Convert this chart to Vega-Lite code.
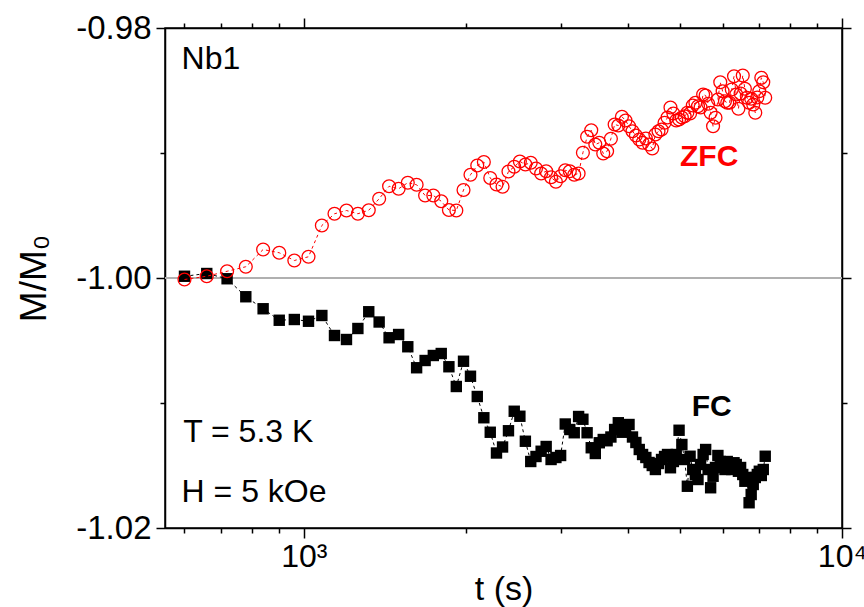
{
  "$schema": "https://vega.github.io/schema/vega-lite/v6.json",
  "width": 677,
  "height": 500,
  "autosize": {"type": "none"},
  "padding": {"left": 165, "top": 28, "right": 22, "bottom": 79},
  "background": "white",
  "config": {
    "view": {"stroke": "black", "strokeWidth": 1.5},
    "font": "Liberation Sans",
    "axis": {"domainColor": "black", "tickColor": "black", "labelColor": "black", "titleColor": "black", "grid": false, "labelFont": "Liberation Sans", "titleFont": "Liberation Sans", "titleFontWeight": "normal", "domainWidth": 1.5, "tickWidth": 1.5, "labelOverlap": false, "labelFlush": false, "labelBound": false}
  },
  "datasets": {
    "zfc": [
      {"t":600,"m":-1.00012},{"t":660,"m":-0.99986},{"t":720,"m":-0.99946},{"t":780,"m":-0.9991},{"t":840,"m":-0.99772},{"t":900,"m":-0.99798},{"t":960,"m":-0.9986},{"t":1020,"m":-0.9983},{"t":1080,"m":-0.9958},{"t":1140,"m":-0.99486},
      {"t":1200,"m":-0.9946},{"t":1260,"m":-0.99486},{"t":1320,"m":-0.99458},{"t":1380,"m":-0.99366},{"t":1440,"m":-0.99266},{"t":1500,"m":-0.99286},{"t":1560,"m":-0.99238},{"t":1620,"m":-0.99254},{"t":1680,"m":-0.9934},{"t":1740,"m":-0.9934},
      {"t":1800,"m":-0.99386},{"t":1860,"m":-0.99456},{"t":1920,"m":-0.9946},{"t":1980,"m":-0.99296},{"t":2040,"m":-0.99174},{"t":2100,"m":-0.991},{"t":2160,"m":-0.99072},{"t":2220,"m":-0.992},{"t":2280,"m":-0.99252},{"t":2340,"m":-0.9927},
      {"t":2400,"m":-0.99148},{"t":2460,"m":-0.9911},{"t":2520,"m":-0.99068},{"t":2580,"m":-0.99092},{"t":2640,"m":-0.99078},{"t":2700,"m":-0.99124},{"t":2760,"m":-0.99164},{"t":2820,"m":-0.99146},{"t":2880,"m":-0.99194},{"t":2940,"m":-0.9923},
      {"t":3000,"m":-0.99186},{"t":3060,"m":-0.99138},{"t":3120,"m":-0.99146},{"t":3180,"m":-0.99174},{"t":3240,"m":-0.99164},{"t":3300,"m":-0.98998},{"t":3360,"m":-0.9887},{"t":3420,"m":-0.98818},{"t":3480,"m":-0.98932},{"t":3540,"m":-0.98918},
      {"t":3600,"m":-0.99004},{"t":3660,"m":-0.98986},{"t":3720,"m":-0.98886},{"t":3780,"m":-0.98772},{"t":3840,"m":-0.9878},{"t":3900,"m":-0.9871},{"t":3960,"m":-0.9874},{"t":4020,"m":-0.98786},{"t":4080,"m":-0.98826},{"t":4140,"m":-0.9886},
      {"t":4200,"m":-0.98892},{"t":4260,"m":-0.98918},{"t":4320,"m":-0.98884},{"t":4380,"m":-0.98932},{"t":4440,"m":-0.98964},{"t":4500,"m":-0.98852},{"t":4560,"m":-0.98826},{"t":4620,"m":-0.98812},{"t":4680,"m":-0.98758},{"t":4740,"m":-0.98716},
      {"t":4800,"m":-0.98636},{"t":4860,"m":-0.98684},{"t":4920,"m":-0.9874},{"t":4980,"m":-0.98732},{"t":5040,"m":-0.98716},{"t":5100,"m":-0.98706},{"t":5160,"m":-0.98678},{"t":5220,"m":-0.98684},{"t":5280,"m":-0.9862},{"t":5340,"m":-0.98598},
      {"t":5400,"m":-0.98626},{"t":5460,"m":-0.98636},{"t":5520,"m":-0.98532},{"t":5580,"m":-0.9854},{"t":5640,"m":-0.98606},{"t":5700,"m":-0.98678},{"t":5760,"m":-0.98786},{"t":5820,"m":-0.98718},{"t":5880,"m":-0.98572},{"t":5940,"m":-0.98434},
      {"t":6000,"m":-0.98506},{"t":6060,"m":-0.98586},{"t":6120,"m":-0.98598},{"t":6180,"m":-0.98598},{"t":6240,"m":-0.98492},{"t":6300,"m":-0.98386},{"t":6360,"m":-0.98532},{"t":6420,"m":-0.98646},{"t":6480,"m":-0.98524},{"t":6540,"m":-0.9838},
      {"t":6600,"m":-0.98486},{"t":6660,"m":-0.98558},{"t":6720,"m":-0.98598},{"t":6780,"m":-0.98566},{"t":6840,"m":-0.98612},{"t":6900,"m":-0.98678},{"t":6960,"m":-0.98556},{"t":7020,"m":-0.98506},{"t":7080,"m":-0.98398},{"t":7140,"m":-0.98434},
      {"t":7200,"m":-0.98558}
    ],
    "fc": [
      {"t":600,"m":-0.99986},{"t":660,"m":-0.99964},{"t":720,"m":-1.00006},{"t":780,"m":-1.0015},{"t":840,"m":-1.00246},{"t":900,"m":-1.00338},{"t":960,"m":-1.00332},{"t":1020,"m":-1.00346},{"t":1080,"m":-1.003},{"t":1140,"m":-1.0046},
      {"t":1200,"m":-1.00492},{"t":1260,"m":-1.00404},{"t":1320,"m":-1.0027},{"t":1380,"m":-1.00352},{"t":1440,"m":-1.00478},{"t":1500,"m":-1.00452},{"t":1560,"m":-1.0055},{"t":1620,"m":-1.00718},{"t":1680,"m":-1.0066},{"t":1740,"m":-1.0062},
      {"t":1800,"m":-1.00604},{"t":1860,"m":-1.0071},{"t":1920,"m":-1.00868},{"t":1980,"m":-1.00666},{"t":2040,"m":-1.00786},{"t":2100,"m":-1.00948},{"t":2160,"m":-1.01118},{"t":2220,"m":-1.01234},{"t":2280,"m":-1.014},{"t":2340,"m":-1.01352},
      {"t":2400,"m":-1.01222},{"t":2460,"m":-1.01066},{"t":2520,"m":-1.01106},{"t":2580,"m":-1.01306},{"t":2640,"m":-1.01468},{"t":2700,"m":-1.01428},{"t":2760,"m":-1.01386},{"t":2820,"m":-1.01348},{"t":2880,"m":-1.01452},{"t":2940,"m":-1.01436},
      {"t":3000,"m":-1.0142},{"t":3060,"m":-1.01168},{"t":3120,"m":-1.01212},{"t":3180,"m":-1.01238},{"t":3240,"m":-1.01108},{"t":3300,"m":-1.0113},{"t":3360,"m":-1.01238},{"t":3420,"m":-1.01358},{"t":3480,"m":-1.01404},{"t":3540,"m":-1.01318},
      {"t":3600,"m":-1.01292},{"t":3660,"m":-1.01302},{"t":3720,"m":-1.01272},{"t":3780,"m":-1.01212},{"t":3840,"m":-1.01158},{"t":3900,"m":-1.01234},{"t":3960,"m":-1.01196},{"t":4020,"m":-1.01172},{"t":4080,"m":-1.01272},{"t":4140,"m":-1.01316},
      {"t":4200,"m":-1.01372},{"t":4260,"m":-1.01412},{"t":4320,"m":-1.01436},{"t":4380,"m":-1.01476},{"t":4440,"m":-1.015},{"t":4500,"m":-1.01532},{"t":4560,"m":-1.01484},{"t":4620,"m":-1.01452},{"t":4680,"m":-1.01428},{"t":4740,"m":-1.01412},
      {"t":4800,"m":-1.01518},{"t":4860,"m":-1.01468},{"t":4920,"m":-1.01412},{"t":4980,"m":-1.01218},{"t":5040,"m":-1.01332},{"t":5100,"m":-1.01452},{"t":5160,"m":-1.01666},{"t":5220,"m":-1.01426},{"t":5280,"m":-1.01532},{"t":5340,"m":-1.01572},
      {"t":5400,"m":-1.01612},{"t":5460,"m":-1.01492},{"t":5520,"m":-1.01412},{"t":5580,"m":-1.01372},{"t":5640,"m":-1.01532},{"t":5700,"m":-1.01678},{"t":5760,"m":-1.01586},{"t":5820,"m":-1.01516},{"t":5880,"m":-1.0142},{"t":5940,"m":-1.01468},
      {"t":6000,"m":-1.01506},{"t":6060,"m":-1.01532},{"t":6120,"m":-1.01468},{"t":6180,"m":-1.01492},{"t":6240,"m":-1.01532},{"t":6300,"m":-1.01478},{"t":6360,"m":-1.01492},{"t":6420,"m":-1.01546},{"t":6480,"m":-1.01516},{"t":6540,"m":-1.01572},
      {"t":6600,"m":-1.01626},{"t":6660,"m":-1.01596},{"t":6720,"m":-1.01798},{"t":6780,"m":-1.01732},{"t":6840,"m":-1.01652},{"t":6900,"m":-1.01596},{"t":6960,"m":-1.01572},{"t":7020,"m":-1.01546},{"t":7080,"m":-1.0158},{"t":7140,"m":-1.01532},
      {"t":7200,"m":-1.01426}
    ]
  },
  "layer": [
    {
      "data": {"values": [{}]},
      "mark": {"type": "rule", "color": "#b0b0b0", "strokeWidth": 2},
      "encoding": {
        "y": {"datum": -1, "type": "quantitative", "scale": {"domain": [-1.02, -0.98], "nice": false, "zero": false}, "axis": null}
      }
    },
    {
      "data": {"name": "fc"},
      "mark": {"type": "line", "color": "black", "strokeWidth": 1, "strokeDash": [3, 3]},
      "encoding": {
        "x": {"field": "t", "type": "quantitative", "scale": {"type": "log", "domain": [552, 10000], "nice": false},
          "axis": {"orient": "bottom", "values": [600,700,800,900,1000,2000,3000,4000,5000,6000,7000,8000,9000,10000],
            "labelExpr": "datum.value == 1000 ? '10³' : (datum.value == 10000 ? '10⁴' : '')",
            "tickSize": {"condition": {"test": "datum.value == 1000 || datum.value == 10000", "value": 10}, "value": 5},
            "labelFontSize": 32, "labelPadding": 3, "title": "t (s)", "titleFontSize": 34, "titlePadding": 0}},
        "y": {"field": "m", "type": "quantitative", "scale": {"domain": [-1.02, -0.98], "nice": false, "zero": false},
          "axis": {"orient": "left", "values": [-1.02, -1.01, -1, -0.99, -0.98],
            "labelExpr": "abs(datum.value+0.98)<1e-6 ? '-0.98' : (abs(datum.value+1)<1e-6 ? '-1.00' : (abs(datum.value+1.02)<1e-6 ? '-1.02' : ''))",
            "tickSize": {"condition": {"test": "abs(datum.value+0.99)>1e-6 && abs(datum.value+1.01)>1e-6", "value": 9}, "value": 5},
            "labelFontSize": 33, "labelPadding": 5, "title": "M/M₀", "titleFontSize": 37, "titlePadding": 22}}
      }
    },
    {
      "data": {"name": "fc"},
      "mark": {"type": "point", "shape": "square", "filled": true, "color": "black", "size": 130, "opacity": 1},
      "encoding": {
        "x": {"field": "t", "type": "quantitative",
          "axis": {"orient": "top", "values": [600,700,800,900,1000,2000,3000,4000,5000,6000,7000,8000,9000,10000], "labels": false, "title": null,
            "tickSize": {"condition": {"test": "datum.value == 1000 || datum.value == 10000", "value": 10}, "value": 5}}},
        "y": {"field": "m", "type": "quantitative",
          "axis": {"orient": "right", "values": [-1.02, -1.01, -1, -0.99, -0.98], "labels": false, "title": null,
            "tickSize": {"condition": {"test": "abs(datum.value+0.99)>1e-6 && abs(datum.value+1.01)>1e-6", "value": 9}, "value": 5}}}
      }
    },
    {
      "data": {"name": "zfc"},
      "mark": {"type": "line", "color": "#ff0000", "strokeWidth": 1, "strokeDash": [3, 3]},
      "encoding": {
        "x": {"field": "t", "type": "quantitative", "axis": null},
        "y": {"field": "m", "type": "quantitative", "axis": null}
      }
    },
    {
      "data": {"name": "zfc"},
      "mark": {"type": "point", "shape": "circle", "filled": false, "color": "#ff0000", "size": 165, "strokeWidth": 1.3, "opacity": 1},
      "encoding": {
        "x": {"field": "t", "type": "quantitative", "axis": null},
        "y": {"field": "m", "type": "quantitative", "axis": null}
      }
    },
    {
      "data": {"values": [{}]},
      "mark": {"type": "text", "text": "Nb1", "align": "left", "baseline": "alphabetic", "fontSize": 32, "font": "Liberation Sans", "color": "black"},
      "encoding": {"x": {"datum": 592.5, "type": "quantitative", "axis": null}, "y": {"datum": -0.98326, "type": "quantitative", "axis": null}}
    },
    {
      "data": {"values": [{}]},
      "mark": {"type": "text", "text": "T = 5.3 K", "align": "left", "baseline": "alphabetic", "fontSize": 32, "font": "Liberation Sans", "color": "black"},
      "encoding": {"x": {"datum": 596.6, "type": "quantitative", "axis": null}, "y": {"datum": -1.01314, "type": "quantitative", "axis": null}}
    },
    {
      "data": {"values": [{}]},
      "mark": {"type": "text", "text": "H = 5 kOe", "align": "left", "baseline": "alphabetic", "fontSize": 32, "font": "Liberation Sans", "color": "black"},
      "encoding": {"x": {"datum": 592.5, "type": "quantitative", "axis": null}, "y": {"datum": -1.0179, "type": "quantitative", "axis": null}}
    },
    {
      "data": {"values": [{}]},
      "mark": {"type": "text", "text": "ZFC", "align": "left", "baseline": "alphabetic", "fontSize": 30, "fontWeight": "bold", "font": "Liberation Sans", "color": "#ff0000"},
      "encoding": {"x": {"datum": 5000, "type": "quantitative", "axis": null}, "y": {"datum": -0.99106, "type": "quantitative", "axis": null}}
    },
    {
      "data": {"values": [{}]},
      "mark": {"type": "text", "text": "FC", "align": "left", "baseline": "alphabetic", "fontSize": 30, "fontWeight": "bold", "font": "Liberation Sans", "color": "black"},
      "encoding": {"x": {"datum": 5255, "type": "quantitative", "axis": null}, "y": {"datum": -1.011, "type": "quantitative", "axis": null}}
    }
  ],
  "resolve": {"axis": {"x": "independent", "y": "independent"}}
}
